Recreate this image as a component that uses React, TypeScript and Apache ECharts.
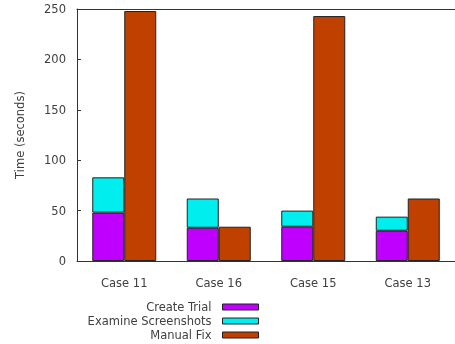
import React, { useEffect, useRef } from "react";
import * as echarts from "echarts";

const categories = ["Case 11", "Case 16", "Case 15", "Case 13"];
const createTrial = [48, 33, 34, 30];
const examineScreenshots = [35, 29, 16, 14];
const manualFix = [248, 34, 243, 62];
const yTicks = { min: 0, max: 250, interval: 50 };

const FONT = "DejaVu Sans";
const TXT = "#404040";

export default function App() {
  const ref = useRef<HTMLDivElement>(null);
  useEffect(() => {
    if (!ref.current) return;
    const chart = echarts.init(ref.current, undefined, { renderer: "svg" });
    const border = { borderColor: "#222", borderWidth: 1 };
    chart.setOption({
      animation: false,
      textStyle: { fontFamily: FONT, color: TXT },
      grid: {
        left: 77,
        right: 0,
        top: 9,
        bottom: 83,
        show: false,
      },
      legend: {
        orient: "vertical",
        align: "right",
        right: 196,
        top: 300,
        padding: 0,
        itemWidth: 36,
        itemHeight: 6,
        itemGap: 0,
        icon: "rect",
        itemStyle: { borderWidth: 1, borderColor: "#222" },
        textStyle: {
          fontFamily: FONT,
          fontSize: 11.5,
          color: TXT,
          lineHeight: 14,
          padding: [0, 6, 0, 0],
        },
        data: ["Create Trial", "Examine Screenshots", "Manual Fix"],
      },
      xAxis: [
        {
          type: "category",
          data: categories,
          axisLine: { show: true, lineStyle: { color: "#333" } },
          axisTick: { show: false },
          axisLabel: { fontFamily: FONT, fontSize: 11.5, color: TXT, margin: 16 },
        },
        {
          type: "category",
          position: "top",
          data: categories,
          axisLine: { show: true, onZero: false, lineStyle: { color: "#333" } },
          axisTick: { show: false },
          axisLabel: { show: false },
        },
      ],
      yAxis: {
        type: "value",
        min: yTicks.min,
        max: yTicks.max,
        interval: yTicks.interval,
        name: "Time (seconds)",
        nameLocation: "middle",
        nameGap: 51,
        nameTextStyle: { fontFamily: FONT, fontSize: 11.5, color: TXT },
        axisLine: { show: true, lineStyle: { color: "#333" } },
        axisTick: { show: true, inside: true, length: 4, lineStyle: { color: "#333" } },
        splitLine: { show: false },
        axisLabel: { fontFamily: FONT, fontSize: 11.5, color: TXT, margin: 11 },
      },
      series: [
        {
          name: "Create Trial",
          type: "bar",
          stack: "a",
          data: createTrial,
          barWidth: 32,
          barGap: "0%",
          itemStyle: { color: "#c000ff", ...border },
        },
        {
          name: "Examine Screenshots",
          type: "bar",
          stack: "a",
          data: examineScreenshots,
          barWidth: 32,
          barGap: "0%",
          itemStyle: { color: "#00eeee", ...border },
        },
        {
          name: "Manual Fix",
          type: "bar",
          data: manualFix,
          barWidth: 32,
          barGap: "0%",
          itemStyle: { color: "#c04000", ...border },
        },
      ],
    });
    return () => chart.dispose();
  }, []);
  return (
    <div
      ref={ref}
      style={{ position: "fixed", left: 0, top: 0, width: 455, height: 344 }}
    />
  );
}
